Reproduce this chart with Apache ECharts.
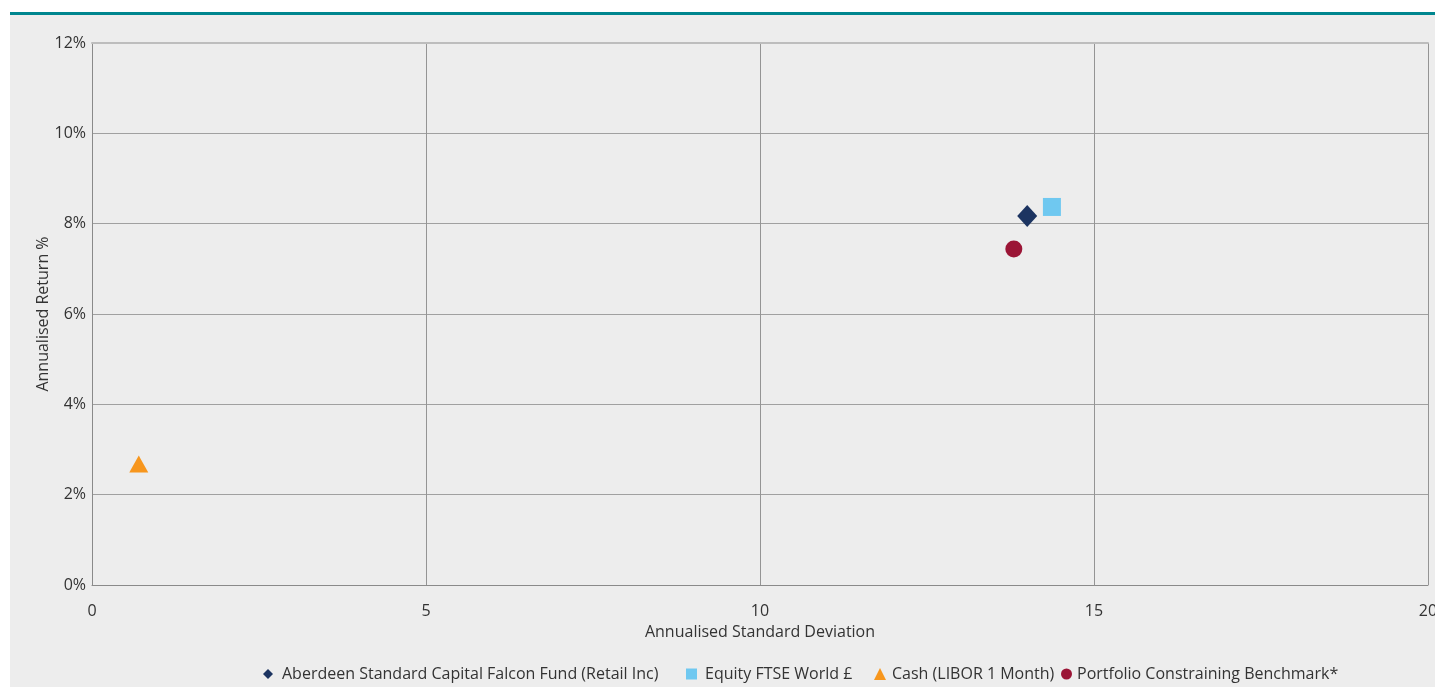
<!DOCTYPE html>
<html>
<head>
<meta charset="utf-8">
<script src="https://cdn.jsdelivr.net/npm/echarts@6/dist/echarts.min.js"></script>
<style>
  html, body { margin: 0; padding: 0; background: #ffffff; overflow: hidden; }
  #bg { position: absolute; left: 10px; top: 15px; width: 1425px; height: 672px; background: #ededed; }
  #teal { position: absolute; left: 10px; top: 12px; width: 1425px; height: 3px; background: #00868f; }
  #chart { position: absolute; left: 0; top: 0; width: 1435px; height: 687px; }
</style>
</head>
<body>
<div id="bg"></div>
<div id="teal"></div>
<div id="chart"></div>
<script>
const seriesNames = [
  'Aberdeen Standard Capital Falcon Fund (Retail Inc)',
  'Equity FTSE World £',
  'Cash (LIBOR 1 Month)',
  'Portfolio Constraining Benchmark*'
];
const stdDev = [14.0, 14.37, 0.7, 13.8];
const annReturn = [8.17, 8.37, 2.68, 7.44];
const xTicks = [0, 5, 10, 15, 20];
const yTicks = [0, 2, 4, 6, 8, 10, 12];
const symbols = ['diamond', 'rect', 'triangle', 'circle'];
const colors = ['#1c3461', '#6fc8f0', '#f7961d', '#9b1536'];

const font = '"Open Sans", "Noto Sans", sans-serif';
const chart = echarts.init(document.getElementById('chart'), null, { renderer: 'canvas' });

const symbolSizes = [[20, 22], 18, [19, 17], 17];
const legendLeft = [263, 686, 874, 1061];
const legendSize = [10, 11, 12, 11];
const legendPad = [4, 3, 1, 0];

const series = seriesNames.map((n, i) => ({
  name: n,
  type: 'scatter',
  symbol: symbols[i],
  symbolSize: symbolSizes[i],
  itemStyle: { color: colors[i], opacity: 1 },
  data: [[stdDev[i], annReturn[i]]]
}));

const legends = seriesNames.map((n, i) => ({
  left: legendLeft[i], top: 666,
  itemWidth: legendSize[i], itemHeight: legendSize[i],
  padding: 0,
  selectedMode: false,
  textStyle: { color: '#333', fontSize: 16, fontFamily: font, padding: [0, 0, 0, legendPad[i]] },
  data: [{ name: n, icon: symbols[i] }]
}));

chart.setOption({
  backgroundColor: 'transparent',
  animation: false,
  textStyle: { fontFamily: font },
  grid: { left: 92, right: 7, top: 43, bottom: 102, containLabel: false, outerBoundsMode: 'none' },
  xAxis: [{
    type: 'value', min: xTicks[0], max: xTicks[xTicks.length - 1], interval: 5,
    name: 'Annualised Standard Deviation', nameLocation: 'middle', nameGap: 39,
    nameTextStyle: { color: '#333', fontSize: 16, fontFamily: font },
    axisLine: { show: true, lineStyle: { color: '#8a8a8a', width: 1 } },
    axisTick: { show: false },
    axisLabel: { color: '#333', fontSize: 16, margin: 18, fontFamily: font },
    splitLine: { show: true, lineStyle: { color: '#949494', width: 1 } }
  }, {
    type: 'value', position: 'top', min: 0, max: 20,
    axisLine: { show: true, onZero: false, lineStyle: { color: '#bdbdbd', width: 2 } },
    axisTick: { show: false }, axisLabel: { show: false }, splitLine: { show: false }
  }],
  yAxis: {
    type: 'value', min: yTicks[0], max: yTicks[yTicks.length - 1], interval: 2,
    name: 'Annualised Return %', nameLocation: 'middle', nameGap: 41, nameMoveOverlap: false,
    nameTextStyle: { color: '#333', fontSize: 16, fontFamily: font },
    axisLine: { show: true, lineStyle: { color: '#8a8a8a', width: 1 } },
    axisTick: { show: false },
    axisLabel: { color: '#333', fontSize: 16, margin: 6, formatter: '{value}%', fontFamily: font },
    splitLine: { show: true, showMaxLine: false, lineStyle: { color: '#a0a0a0', width: 1 } }
  },
  legend: legends,
  series: series
});
</script>
</body>
</html>
